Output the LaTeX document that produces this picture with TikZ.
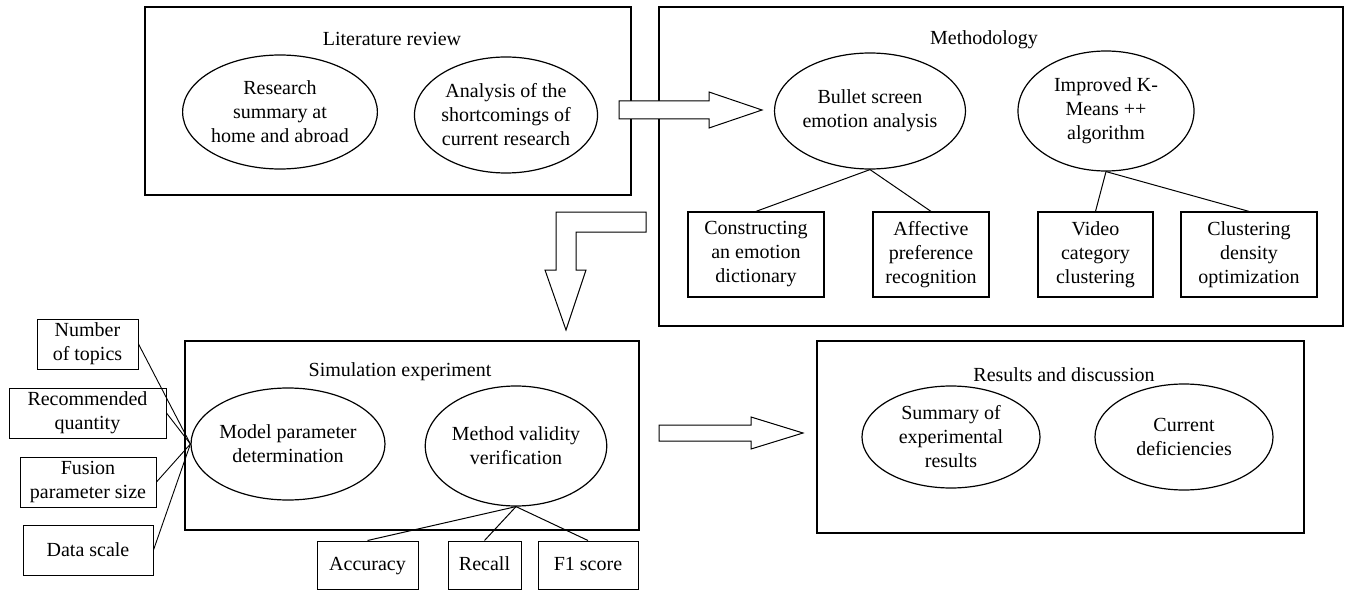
\documentclass[tikz,border=0pt]{standalone}
\usepackage{fontspec}
\setmainfont{Liberation Serif}
\usetikzlibrary{shapes.geometric}
\begin{document}
\begin{tikzpicture}[x=1pt,y=-1pt,
    every node/.style={font=\fontsize{20}{24}\selectfont},
    frame/.style={draw,line width=1.4pt,inner sep=0pt},
    topic/.style={draw,ellipse,line width=1.2pt,align=center,inner sep=0pt},
    leaf/.style={draw,line width=1.2pt,align=center,inner sep=0pt,minimum height=85},
    factor/.style={draw,line width=1pt,align=center,inner sep=0pt,minimum height=50},
    metric/.style={draw,line width=1pt,inner sep=0pt,minimum height=48,text height=14pt,text depth=4pt},
    link/.style={line width=1pt},
    bigarrow/.style={draw,line width=1pt,fill=white}]
  \useasboundingbox (0,0) rectangle (1347,591);

  % stage frames
  \node[frame,minimum width=486,minimum height=188] (lit) at (388,101) {};
  \node[frame,minimum width=684,minimum height=319] (meth) at (1001,166.5) {};
  \node[frame,minimum width=454,minimum height=189] (sim) at (412,435.5) {};
  \node[frame,minimum width=487,minimum height=192] (res) at (1060.5,437) {};

  \node (littitle) at (392,39) {Literature review};
  \node (methtitle) at (984,40) {Methodology};
  \node (simtitle) at (400,372) {Simulation experiment};
  \node (restitle) at (1064,375) {Results and discussion};

  % literature review
  \node[topic,minimum width=180,minimum height=114] (research) at (280,112)
    {Research\\summary at\\home and abroad};
  \node[topic,minimum width=176,minimum height=116] (shortcoming) at (506,115)
    {Analysis of the\\shortcomings of\\current research};

  % methodology
  \node[topic,minimum width=176,minimum height=116] (bullet) at (870,111)
    {Bullet screen\\emotion analysis};
  \node[topic,minimum width=176,minimum height=120] (kmeans) at (1106,111)
    {Improved K-\\Means ++\\algorithm};
  \node[leaf,minimum width=136] (dict) at (756,254.5)
    {Constructing\\an emotion\\dictionary};
  \node[leaf,minimum width=116] (pref) at (931,254.5)
    {Affective\\preference\\recognition};
  \node[leaf,minimum width=115] (video) at (1095.5,254.5)
    {Video\\category\\clustering};
  \node[leaf,minimum width=136] (density) at (1249,254.5)
    {Clustering\\density\\optimization};
  \draw[link] (bullet.south) -- (dict.north);
  \draw[link] (bullet.south) -- (pref.north);
  \draw[link] (kmeans.south) -- (video.north);
  \draw[link] (kmeans.south) -- (density.north);

  % simulation experiment
  \node[topic,minimum width=180,minimum height=112] (model) at (288,444)
    {Model parameter\\determination};
  \node[topic,minimum width=180,minimum height=120] (validity) at (516,446)
    {Method validity\\verification};
  \node[metric,minimum width=101] (accuracy) at (367.5,565) {Accuracy};
  \node[metric,minimum width=73] (recall) at (484.5,565) {Recall};
  \node[metric,minimum width=100] (fscore) at (588,565) {F1 score};
  \draw[link] (validity.south) -- (accuracy.north);
  \draw[link] (validity.south) -- (recall.north);
  \draw[link] (validity.south) -- (fscore.north);

  \node[factor,minimum width=101] (topics) at (87.5,344) {Number\\of topics};
  \node[factor,minimum width=157] (quantity) at (87.5,413) {Recommended\\quantity};
  \node[factor,minimum width=136] (fusion) at (88,482) {Fusion\\parameter size};
  \node[factor,minimum width=130] (scale) at (88,550) {Data scale};
  \foreach \f in {topics,quantity,fusion,scale}
    \draw[line width=0.9pt] (\f.east) -- (model.west);

  % results and discussion
  \node[topic,minimum width=178,minimum height=102] (summary) at (951,437)
    {Summary of\\experimental\\results};
  \node[topic,minimum width=178,minimum height=106] (deficiency) at (1184,437)
    {Current\\deficiencies};

  % block arrows between stages
  \draw[bigarrow] (619,101) -- (709,101) -- (709,92) -- (762,110) -- (709,128)
    -- (709,119) -- (619,119) -- cycle;
  \draw[bigarrow] (646,212) -- (556,212) -- (556,270) -- (545,270) -- (566,330)
    -- (586,270) -- (576,270) -- (576,232) -- (646,232) -- cycle;
  \draw[bigarrow] (659,425) -- (751,425) -- (751,417) -- (803,433) -- (751,449)
    -- (751,441) -- (659,441) -- cycle;
\end{tikzpicture}
\end{document}
